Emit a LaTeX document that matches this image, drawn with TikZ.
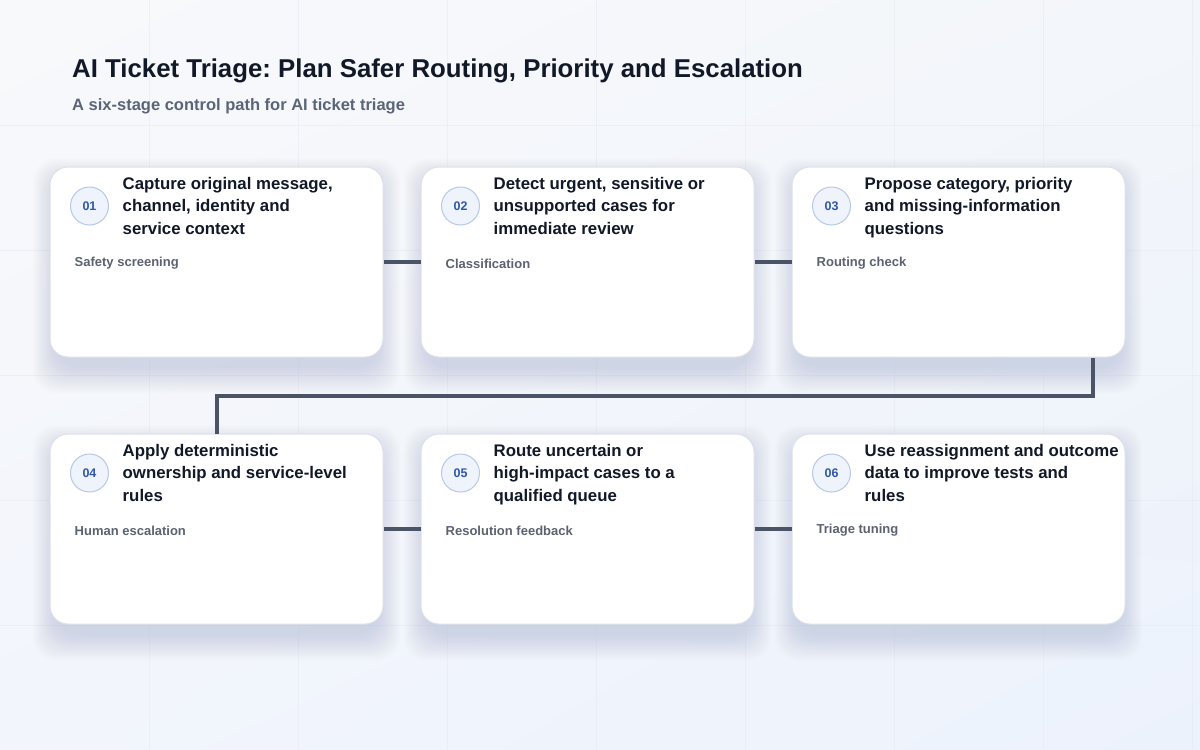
\documentclass[tikz,border=0pt]{standalone}
\usepackage{fontspec}
\setmainfont{Liberation Sans}
\frenchspacing
\usetikzlibrary{calc,shadings}
\definecolor{bgA}{HTML}{F8F9FB}
\definecolor{bgB}{HTML}{F3F6FA}
\definecolor{bgC}{HTML}{F2F5FC}
\definecolor{bgD}{HTML}{ECF2FC}
\definecolor{gridc}{HTML}{E3E8F0}
\definecolor{titlec}{HTML}{111827}
\definecolor{subc}{HTML}{5B6577}
\definecolor{cardb}{HTML}{DCE1E9}
\definecolor{linkc}{HTML}{4A5466}
\definecolor{numfill}{HTML}{EEF3FC}
\definecolor{numdraw}{HTML}{B8C8E6}
\definecolor{numtext}{HTML}{2F58A8}
\definecolor{tagc}{HTML}{5B6270}
\definecolor{shadowc}{HTML}{8E9AB4}
\tikzset{
  card/.style={draw=cardb, line width=1pt, fill=white, rounded corners=18pt,
    minimum width=333pt, minimum height=190pt, inner sep=0pt},
  numbadge/.style={circle, draw=numdraw, line width=1pt, fill=numfill,
    minimum size=38pt, inner sep=0pt, text=numtext,
    font=\bfseries\fontsize{12.5}{14}\selectfont},
  steptitle/.style={anchor=north west, inner sep=0pt, align=left, text=titlec,
    font=\bfseries\fontsize{16.8}{22.5}\selectfont},
  tag/.style={anchor=west, inner sep=0pt, text=tagc,
    font=\bfseries\fontsize{13}{15}\selectfont},
  link/.style={draw=linkc, line width=4pt},
}
\newcommand{\cardshadow}[2]{%
  \foreach \k in {1,...,18}{%
    \fill[shadowc, opacity=0.014, rounded corners=22pt]
      ($(#1,#2)+(-160-\k*1.3,-80-\k*1.3)$) rectangle ($(#1,#2)+(160+\k*1.3,104+\k*1.5)$);
  }}
\begin{document}
\begin{tikzpicture}[x=1pt,y=-1pt]
\useasboundingbox (0,0) rectangle (1200,750);
\shade[upper left=bgA, upper right=bgB, lower left=bgC, lower right=bgD] (0,0) rectangle (1200,750);
\foreach \gx in {149,298,447,596,745,894,1043,1192}{\draw[gridc, opacity=0.45, line width=0.8pt] (\gx,0) -- (\gx,750);}
\foreach \gy in {125,250,375,500,625}{\draw[gridc, opacity=0.45, line width=0.8pt] (0,\gy) -- (1200,\gy);}

\node[anchor=base west, inner sep=0pt, text=titlec, font=\bfseries\fontsize{25.8}{30}\selectfont] (title) at (72,77) {AI Ticket Triage: Plan Safer Routing, Priority and Escalation};
\node[anchor=base west, inner sep=0pt, text=subc, font=\bfseries\fontsize{16.5}{20}\selectfont] (subtitle) at (72,110) {A six-stage control path for AI ticket triage};

% shadows
\foreach \cx in {216.5,587.5,958.5}{\cardshadow{\cx}{262}\cardshadow{\cx}{529}}

\coordinate (c1c) at (216.5,262);
\coordinate (c2c) at (587.5,262);
\coordinate (c3c) at (958.5,262);
\coordinate (c4c) at (216.5,529);
\coordinate (c5c) at (587.5,529);
\coordinate (c6c) at (958.5,529);

\node[card] (c1) at (c1c) {};
\node[card] (c2) at (c2c) {};
\node[card] (c3) at (c3c) {};
\node[card] (c4) at (c4c) {};
\node[card] (c5) at (c5c) {};
\node[card] (c6) at (c6c) {};

\draw[link] (c1.east) -- (c2.west);
\draw[link] (c2.east) -- (c3.west);
\draw[link] (c4.east) -- (c5.west);
\draw[link] (c5.east) -- (c6.west);
\draw[link] ([xshift=-33pt]c3.south east) -- ++(0,38) -| (c4.north);

% card contents
\foreach \c/\n/\t/\l in {
  c1/01/{Capture original message,\\channel, identity and\\service context}/Safety screening,
  c2/02/{Detect urgent, sensitive or\\unsupported cases for\\immediate review}/Classification,
  c3/03/{Propose category, priority\\and missing-information\\questions}/Routing check,
  c4/04/{Apply deterministic\\ownership and service-level\\rules}/Human escalation,
  c5/05/{Route uncertain or\\high-impact cases to a\\qualified queue}/Resolution feedback,
  c6/06/{Use reassignment and outcome\\data to improve tests and\\rules}/Triage tuning}{
  \node[numbadge] (\c-num) at ($(\c.north west)+(40,39.5)$) {\n};
  \node[steptitle] (\c-title) at ($(\c.north west)+(73,10.5)$) {\t};
  \node[tag] (\c-tag) at ($(\c.west)+(25,1.5)$) {\l};
}
\end{tikzpicture}
\end{document}
